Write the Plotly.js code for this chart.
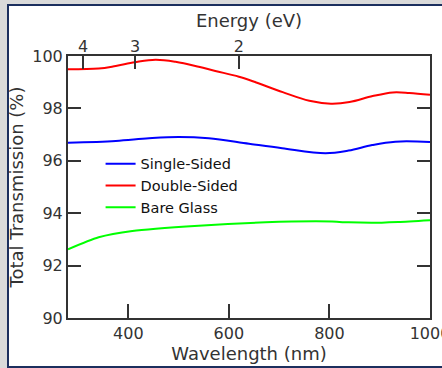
<!DOCTYPE html>
<html>
<head>
<meta charset="utf-8">
<script src="https://cdn.plot.ly/plotly-3.0.1.min.js"></script>
<style>
  html, body { margin:0; padding:0; background:#dadada; width:442px; height:368px; overflow:hidden; }
  #frame { position:absolute; left:7px; top:4px; width:520px; height:360px; border:2px solid #1c2f5e; background:#ffffff; }
  #chart { position:absolute; left:0; top:0; width:442px; height:368px; }
</style>
</head>
<body>
<div id="frame"></div>
<div id="chart"></div>
<script>
// Wavelength grid (nm) and series values (%)
const wlDouble = [280, 341, 375, 413, 454, 494, 540, 573, 620, 653, 707, 760, 803, 840, 886, 926, 959, 1000];
const doubleSided = [99.49, 99.52, 99.62, 99.76, 99.86, 99.78, 99.59, 99.43, 99.21, 99.00, 98.62, 98.29, 98.18, 98.24, 98.47, 98.61, 98.59, 98.52];

const wlSingle = [280, 375, 441, 500, 560, 640, 706, 792, 838, 885, 931, 1000];
const singleSided = [96.69, 96.76, 96.86, 96.91, 96.86, 96.65, 96.48, 96.29, 96.39, 96.60, 96.73, 96.72];

const wlGlass = [280, 341, 408, 540, 673, 772, 805, 838, 904, 937, 1000];
const bareGlass = [92.62, 93.08, 93.32, 93.52, 93.65, 93.69, 93.68, 93.65, 93.64, 93.66, 93.73];

const energyTicks = [4, 3, 2];          // eV
const energyLabels = ["4", "3", "2"];
const hc = 1240;                         // eV·nm conversion

const FONT = "DejaVu Sans, Verdana, sans-serif";
const AX = "#333333";

const traces = [
  {x: wlSingle, y: singleSided, name: "Single-Sided", mode: "lines", line: {color: "#0000ff", width: 2, shape: "spline", smoothing: 1}},
  {x: wlDouble, y: doubleSided, name: "Double-Sided", mode: "lines", line: {color: "#ff0000", width: 2, shape: "spline", smoothing: 1}},
  {x: wlGlass, y: bareGlass, name: "Bare Glass", mode: "lines", line: {color: "#00ff00", width: 2, shape: "spline", smoothing: 0.7}},
  {x: [280, 1000], y: [null, null], xaxis: "x2", showlegend: false, hoverinfo: "skip", mode: "lines"}
];

const layout = {
  width: 442, height: 368,
  margin: {l: 68, r: 12, t: 56, b: 50},
  paper_bgcolor: "rgba(0,0,0,0)",
  plot_bgcolor: "#ffffff",
  font: {family: FONT, color: AX, size: 16},
  showlegend: true,
  legend: {x: 0.09, y: 0.65, xanchor: "left", yanchor: "top", bgcolor: "rgba(0,0,0,0)",
           font: {family: FONT, size: 14.5, color: "#111"}, tracegroupgap: 0, itemwidth: 30},
  xaxis: {
    range: [280, 1000], tickvals: [400, 600, 800, 1000], ticks: "inside", ticklen: 14, tickwidth: 2, tickcolor: AX,
    showline: true, linecolor: AX, linewidth: 2, mirror: true, showgrid: false, zeroline: false,
    ticklabeloverflow: "allow",
    tickfont: {family: FONT, size: 16, color: AX},
    title: {text: "Wavelength (nm)", font: {family: FONT, size: 18, color: AX}, standoff: 4}
  },
  xaxis2: {
    overlaying: "x", side: "top", anchor: "y", range: [280, 1000],
    tickvals: energyTicks.map(e => hc / e), ticktext: energyLabels,
    ticks: "inside", ticklen: 13, tickwidth: 2, tickcolor: AX, showline: false, showgrid: false, zeroline: false,
    tickfont: {family: FONT, size: 16, color: AX},
    title: {text: "Energy (eV)", font: {family: FONT, size: 18, color: AX}, standoff: 4}
  },
  yaxis: {
    range: [90, 100], tickvals: [90, 92, 94, 96, 98, 100], ticks: "inside", ticklen: 13, tickwidth: 2, tickcolor: AX,
    showline: true, linecolor: AX, linewidth: 2, mirror: "ticks", showgrid: false, zeroline: false,
    tickfont: {family: FONT, size: 16, color: AX},
    title: {text: "Total Transmission (%)", font: {family: FONT, size: 18, color: AX}, standoff: 4}
  }
};

Plotly.newPlot("chart", traces, layout, {staticPlot: true, displayModeBar: false});
</script>
</body>
</html>
